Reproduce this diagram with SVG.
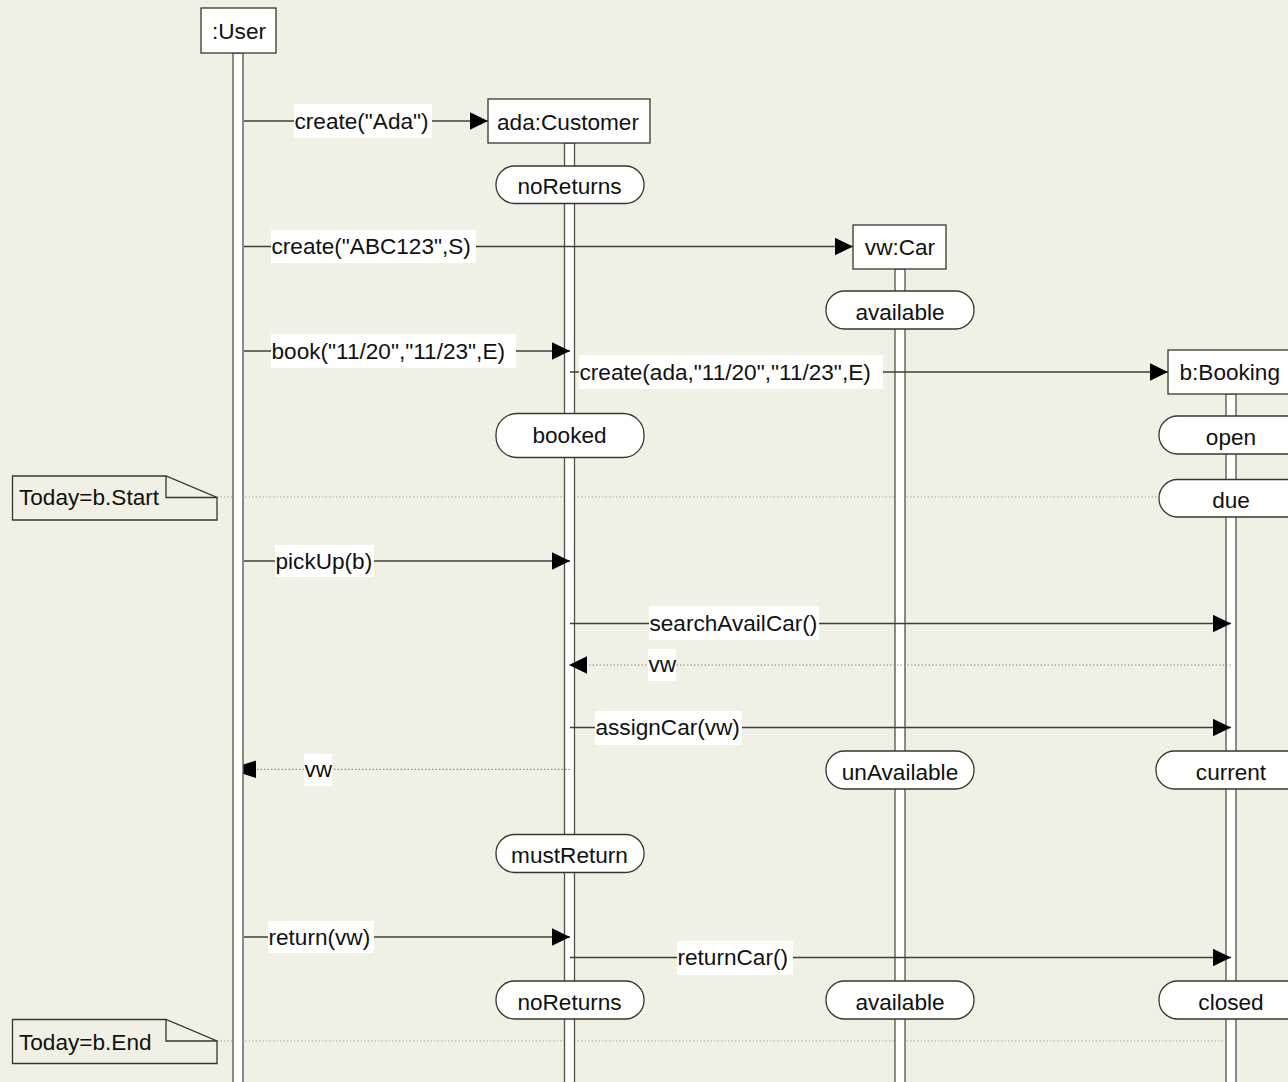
<svg xmlns="http://www.w3.org/2000/svg" width="1288" height="1082" viewBox="0 0 1288 1082">
  <defs>
    <style>
      text { font-family: "Liberation Sans", Arial, sans-serif; font-size: 22.6px; fill: #111; }
      .mid { text-anchor: middle; }
      .box { fill: #ffffff; stroke: #333a2c; stroke-width: 1.3; }
      .bar { fill: #ffffff; stroke: #4d5443; stroke-width: 1.3; }
      .state { fill: #ffffff; stroke: #333a2c; stroke-width: 1.3; }
      .note { fill: #f1f0e4; stroke: #333a2c; stroke-width: 1.3; }
      .msg { stroke: #3a4232; stroke-width: 1.3; fill: none; }
      .ret { stroke: #8a8e80; stroke-width: 1.2; stroke-dasharray: 1.5 2; fill: none; }
      .anchor { stroke: #a8aa9c; stroke-width: 1.2; stroke-dasharray: 1.5 2; fill: none; }
      .lbl { fill: #ffffff; stroke: none; }
      .head { fill: #000; stroke: none; }
    </style>
    <marker id="arrow" markerUnits="userSpaceOnUse" markerWidth="18" markerHeight="18" refX="18" refY="8.7" orient="auto">
      <path d="M0,0 L18,8.7 L0,17.4 z" fill="#000"/>
    </marker>
  </defs>

  <rect x="0" y="0" width="1288" height="1082" fill="#f1f0e4"/>

  <!-- note anchor lines (behind lifelines) -->
  <g id="note-anchors">
    <line class="anchor" x1="217" y1="497" x2="1160" y2="497"/>
    <line class="anchor" x1="217" y1="1041" x2="1226" y2="1041"/>
  </g>

  <!-- lifelines -->
  <g id="lifelines">
    <rect class="bar" x="233" y="53" width="10" height="1040"/>
    <rect class="bar" x="564.5" y="143" width="10" height="950"/>
    <rect class="bar" x="895" y="269" width="10" height="820"/>
    <rect class="bar" x="1226" y="394" width="10" height="700"/>
  </g>

  <!-- messages -->
  <g id="connectors">
    <line class="msg" x1="244" y1="121" x2="488" y2="121" marker-end="url(#arrow)"/>
    <rect class="lbl" x="294" y="104" width="138" height="34"/>
    <text x="294.5" y="128.5">create("Ada")</text>

    <line class="msg" x1="244" y1="246.5" x2="853" y2="246.5" marker-end="url(#arrow)"/>
    <rect class="lbl" x="271" y="230" width="205" height="33"/>
    <text x="271.5" y="254">create("ABC123",S)</text>

    <line class="msg" x1="244" y1="351" x2="570" y2="351" marker-end="url(#arrow)"/>
    <rect class="lbl" x="271" y="334" width="245" height="34"/>
    <text x="271.5" y="358.5">book("11/20","11/23",E)</text>

    <line class="msg" x1="570" y1="372" x2="1168" y2="372" marker-end="url(#arrow)"/>
    <rect class="lbl" x="579" y="355" width="304" height="34"/>
    <text x="579.5" y="379.5">create(ada,"11/20","11/23",E)</text>

    <line class="msg" x1="244" y1="561" x2="570" y2="561" marker-end="url(#arrow)"/>
    <rect class="lbl" x="275" y="545" width="99" height="32"/>
    <text x="275.5" y="568.5">pickUp(b)</text>

    <line class="msg" x1="570" y1="623.5" x2="1231" y2="623.5" marker-end="url(#arrow)"/>
    <rect class="lbl" x="649" y="606" width="170" height="34"/>
    <text x="649.5" y="631">searchAvailCar()</text>

    <line class="ret" x1="1231" y1="665" x2="569" y2="665" marker-end="url(#arrow)"/>
    <rect class="lbl" x="648" y="649" width="28" height="32"/>
    <text x="648.5" y="672">vw</text>

    <line class="msg" x1="570" y1="727.5" x2="1231" y2="727.5" marker-end="url(#arrow)"/>
    <rect class="lbl" x="595" y="711" width="147" height="34"/>
    <text x="595.5" y="735">assignCar(vw)</text>

    <line class="ret" x1="570" y1="769.3" x2="256" y2="769.3"/>
    <polygon class="head" points="243.5,764.5 256,760.6 256,778 243.5,774.1"/>
    <rect class="lbl" x="304" y="754" width="28" height="32"/>
    <text x="304.5" y="776.5">vw</text>

    <line class="msg" x1="244" y1="937" x2="570" y2="937" marker-end="url(#arrow)"/>
    <rect class="lbl" x="268" y="921" width="106" height="32"/>
    <text x="268.5" y="944.5">return(vw)</text>

    <line class="msg" x1="570" y1="957.5" x2="1231" y2="957.5" marker-end="url(#arrow)"/>
    <rect class="lbl" x="677" y="941" width="116" height="34"/>
    <text x="677.5" y="965">returnCar()</text>
  </g>

  <!-- objects -->
  <g id="user">
    <rect class="box" x="201" y="8" width="75" height="45"/>
    <text class="mid" x="239" y="38.5">:User</text>
  </g>
  <g id="customer">
    <rect class="box" x="488" y="99" width="162" height="44"/>
    <text class="mid" x="568" y="129.5">ada:Customer</text>
  </g>
  <g id="car">
    <rect class="box" x="853" y="225" width="93" height="44"/>
    <text class="mid" x="900" y="255">vw:Car</text>
  </g>
  <g id="booking">
    <rect class="box" x="1168" y="350" width="124" height="44"/>
    <text x="1179.5" y="380">b:Booking</text>
  </g>

  <!-- customer states -->
  <g id="customer-noReturns-1">
    <rect class="state" x="496" y="166" width="148" height="37.5" rx="18.5"/>
    <text class="mid" x="569.5" y="194">noReturns</text>
  </g>
  <g id="customer-booked">
    <rect class="state" x="496" y="413.5" width="148" height="44" rx="21"/>
    <text class="mid" x="569.5" y="443">booked</text>
  </g>
  <g id="customer-mustReturn">
    <rect class="state" x="496" y="834.5" width="148" height="38" rx="18.5"/>
    <text class="mid" x="569.5" y="863">mustReturn</text>
  </g>
  <g id="customer-noReturns-2">
    <rect class="state" x="496" y="981" width="148" height="38" rx="18.5"/>
    <text class="mid" x="569.5" y="1009.5">noReturns</text>
  </g>

  <!-- car states -->
  <g id="car-available-1">
    <rect class="state" x="826" y="291" width="148" height="38" rx="18.5"/>
    <text class="mid" x="900" y="319.5">available</text>
  </g>
  <g id="car-unAvailable">
    <rect class="state" x="826" y="751" width="148" height="38" rx="18.5"/>
    <text class="mid" x="900" y="779.5">unAvailable</text>
  </g>
  <g id="car-available-2">
    <rect class="state" x="826" y="981" width="148" height="38" rx="18.5"/>
    <text class="mid" x="900" y="1009.5">available</text>
  </g>

  <!-- booking states -->
  <g id="booking-open">
    <rect class="state" x="1159" y="416" width="150" height="38" rx="18.5"/>
    <text class="mid" x="1231" y="445">open</text>
  </g>
  <g id="booking-due">
    <rect class="state" x="1159" y="479.5" width="150" height="37.5" rx="18.5"/>
    <text class="mid" x="1231" y="507.5">due</text>
  </g>
  <g id="booking-current">
    <rect class="state" x="1156" y="751" width="152" height="38" rx="18.5"/>
    <text class="mid" x="1231" y="779.5">current</text>
  </g>
  <g id="booking-closed">
    <rect class="state" x="1159" y="981" width="150" height="38" rx="18.5"/>
    <text class="mid" x="1231" y="1009.5">closed</text>
  </g>

  <!-- notes -->
  <g id="note-start">
    <path class="note" d="M12.5,476 L166,476 L217,497.5 L217,520 L12.5,520 Z"/>
    <polyline fill="none" stroke="#333a2c" stroke-width="1.3" points="166,476 166,497.5 217,497.5"/>
    <text x="19" y="505">Today=b.Start</text>
  </g>
  <g id="note-end">
    <path class="note" d="M12.5,1019.5 L166,1019.5 L217,1041 L217,1063.5 L12.5,1063.5 Z"/>
    <polyline fill="none" stroke="#333a2c" stroke-width="1.3" points="166,1019.5 166,1041 217,1041"/>
    <text x="19" y="1050">Today=b.End</text>
  </g>
</svg>
